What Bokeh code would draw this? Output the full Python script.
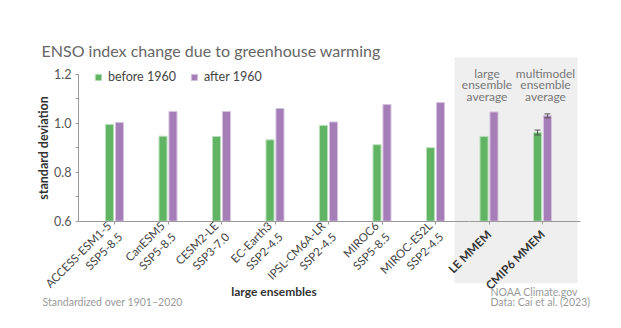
import math
from bokeh.plotting import figure
from bokeh.models import (ColumnDataSource, Range1d, FixedTicker, LinearAxis, Label,
                          Legend, LegendItem, NumeralTickFormatter)
from bokeh.transform import dodge
from bokeh.embed import file_html
from bokeh.resources import INLINE

# ---------------- data ----------------
models = ["ACCESS-ESM1-5\nSSP5-8.5", "CanESM5\nSSP5-8.5", "CESM2-LE\nSSP3-7.0",
          "EC-Earth3\nSSP2-4.5", "IPSL-CM6A-LR\nSSP2-4.5", "MIROC6\nSSP5-8.5",
          "MIROC-ES2L\nSSP2-4.5", "LE MMEM", "CMIP6 MMEM"]
before_1960 = [0.995, 0.947, 0.946, 0.932, 0.991, 0.912, 0.900, 0.946, 0.962]
after_1960 = [1.003, 1.048, 1.048, 1.060, 1.005, 1.076, 1.084, 1.046, 1.030]
err_models = ["CMIP6 MMEM"]
err_before = [0.010]
err_after = [0.008]
y_ticks = [0.6, 0.8, 1.0, 1.2]
y_minor = [0.7, 0.9, 1.1]
panel_notes = ["large\nensemble\naverage", "multimodel\nensemble\naverage"]

GREEN = "#60b463"
PURPLE = "#a57db7"
FONT = "Lato"
TITLE_FONT = "Lato"

idx = list(range(len(models)))
n_ens = 7
BASE = y_ticks[0]

W, H = 621, 328
# pixel geometry of the plotting area (used for layout of the canvas)
X_PX0, X_STEP = 114.0, 53.5      # first category centre, category spacing
Y_PX_BASE, Y_SCALE = 220.7, 245.0  # pixel row of y=0.6, pixels per unit


def px2x(px):
    return (px - X_PX0) / X_STEP


def py2y(py):
    return BASE + (Y_PX_BASE - py) / Y_SCALE


p = figure(width=W, height=H, x_range=Range1d(px2x(0), px2x(W)),
           y_range=Range1d(py2y(H), py2y(0)),
           output_backend="svg", toolbar_location=None, x_axis_type=None, y_axis_type=None,
           min_border_left=0, min_border_right=0, min_border_top=0, min_border_bottom=0)
p.outline_line_color = None
p.background_fill_color = "white"
p.border_fill_color = "white"

AX_LEFT = px2x(78)
AX_RIGHT = px2x(580)

# shaded panel behind multimodel averages
p.quad(left=[idx[n_ens] - 0.645], right=[idx[-1] + 0.655],
       bottom=[py2y(282.7)], top=[py2y(56.7)],
       fill_color="#efefef", line_color=None)

src = ColumnDataSource(dict(idx=idx, before=before_1960, after=after_1960))
g = p.vbar(x=dodge("idx", -0.093, range=p.x_range), top="before", bottom=BASE, width=0.15,
           source=src, fill_color=GREEN, line_color="#b9dfba", line_width=1)
pu = p.vbar(x=dodge("idx", 0.093, range=p.x_range), top="after", bottom=BASE, width=0.15,
            source=src, fill_color=PURPLE, line_color="#d6c3df", line_width=1)

# error bars
eidx = [models.index(m) for m in err_models]
esrc = ColumnDataSource(dict(
    idx=eidx,
    b_lo=[before_1960[i] - e for i, e in zip(eidx, err_before)],
    b_hi=[before_1960[i] + e for i, e in zip(eidx, err_before)],
    a_lo=[after_1960[i] - e for i, e in zip(eidx, err_after)],
    a_hi=[after_1960[i] + e for i, e in zip(eidx, err_after)],
))
for off, lo, hi in [(-0.093, "b_lo", "b_hi"), (0.093, "a_lo", "a_hi")]:
    xx = dodge("idx", off, range=p.x_range)
    p.segment(x0=xx, y0=lo, x1=xx, y1=hi, source=esrc, line_color="#555555", line_width=1)
    p.scatter(x=xx, y=lo, source=esrc, marker="dash", size=6, line_color="#555555")
    p.scatter(x=xx, y=hi, source=esrc, marker="dash", size=6, line_color="#555555")

# ---------------- axes ----------------
AX_COL = "#9a9a9a"
yaxis = LinearAxis(fixed_location=AX_LEFT, bounds=(y_ticks[0], y_ticks[-1]),
                   ticker=FixedTicker(ticks=y_ticks, minor_ticks=y_minor),
                   formatter=NumeralTickFormatter(format="0.0"),
                   axis_label="standard deviation")
yaxis.axis_line_color = AX_COL
yaxis.major_tick_line_color = AX_COL
yaxis.minor_tick_line_color = AX_COL
yaxis.major_tick_out = 3
yaxis.major_tick_in = 0
yaxis.minor_tick_out = 3
yaxis.minor_tick_in = 0
yaxis.major_label_standoff = 4
yaxis.major_label_text_font = FONT
yaxis.major_label_text_font_size = "12.5px"
yaxis.major_label_text_color = "#555555"
yaxis.axis_label_text_font = FONT
yaxis.axis_label_text_font_size = "12.5px"
yaxis.axis_label_text_font_style = "bold"
yaxis.axis_label_text_color = "#333333"
yaxis.axis_label_standoff = 0
p.add_layout(yaxis, "left")

split = idx[n_ens] - 0.37
xaxis1 = LinearAxis(fixed_location=BASE, bounds=(AX_LEFT, split),
                    ticker=FixedTicker(ticks=idx[:n_ens]),
                    major_label_overrides={i: models[i] for i in idx[:n_ens]})
xaxis2 = LinearAxis(fixed_location=BASE, bounds=(split, AX_RIGHT),
                    ticker=FixedTicker(ticks=idx[n_ens:]),
                    major_label_overrides={i: models[i] for i in idx[n_ens:]})
for ax in (xaxis1, xaxis2):
    ax.axis_line_color = AX_COL
    ax.major_tick_line_color = AX_COL
    ax.major_tick_out = 3
    ax.major_tick_in = 0
    ax.minor_tick_line_color = None
    ax.major_label_orientation = math.pi / 4
    ax.major_label_standoff = 5
    ax.major_label_text_font = FONT
    ax.major_label_text_font_size = "11.5px"
    ax.major_label_text_color = "#444444"
xaxis2.major_label_text_font_style = "bold"
xaxis2.major_label_text_color = "#333333"
xaxis2.major_label_standoff = 8
p.add_layout(xaxis1, "below")
p.add_layout(xaxis2, "below")

# ---------------- legend ----------------
legend = Legend(items=[LegendItem(label="before 1960", renderers=[g]),
                       LegendItem(label="after 1960", renderers=[pu])],
                orientation="horizontal", location=(94, H - 76.7 - 10))
legend.margin = 0
legend.padding = 0
legend.spacing = 14
legend.glyph_width = 8
legend.glyph_height = 8
legend.label_standoff = 6
legend.label_height = 20
legend.label_text_font = FONT
legend.label_text_font_size = "12.5px"
legend.label_text_color = "#444444"
legend.border_line_color = None
legend.background_fill_alpha = 0
p.add_layout(legend)

# ---------------- texts ----------------
def add_text(txt, px, py, size, color, align="left", font=FONT, style="normal"):
    p.add_layout(Label(x=px2x(px), y=py2y(py), text=txt, text_font=font,
                       text_font_size=size, text_color=color, text_align=align,
                       text_baseline="middle", text_font_style=style))

add_text("ENSO index change due to greenhouse warming", 41, 50, "16px", "#666666",
         font=TITLE_FONT)
add_text("large ensembles", 273.5, 291, "12px", "#333333", align="center", style="bold")
add_text("Standardized over 1901\u20132020", 42, 301, "10.5px", "#9a9a9a")
add_text("NOAA Climate.gov", 490, 291, "10.5px", "#9a9a9a")
add_text("Data: Cai et al. (2023)", 490, 301, "10.5px", "#9a9a9a")

for note, i, xo in zip(panel_notes, idx[n_ens:], (-2, 3)):
    for k, line in enumerate(note.split("\n")):
        p.add_layout(Label(x=i, y=py2y(72.7 + k * 11.6), text=line, text_font=FONT,
                           x_offset=xo,
                           text_font_size="12px", text_color="#777777",
                           text_align="center", text_baseline="middle"))

open("out.html", "w").write(file_html(p, INLINE))
